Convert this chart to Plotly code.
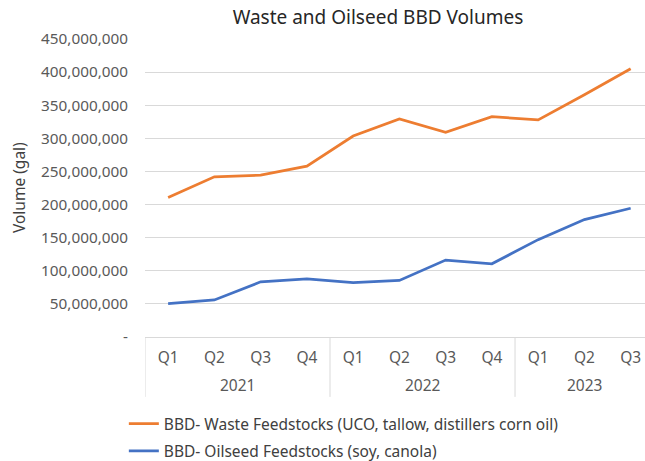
import plotly.graph_objects as go

years = ["2021"] * 4 + ["2022"] * 4 + ["2023"] * 3
quarters = ["Q1", "Q2", "Q3", "Q4", "Q1", "Q2", "Q3", "Q4", "Q1", "Q2", "Q3"]

waste = [210.5e6, 241.9e6, 244.4e6, 258.1e6, 303.5e6, 329.3e6, 309.1e6, 332.8e6, 327.8e6, 365.7e6, 405.0e6]
oilseed = [50.5e6, 56.0e6, 83.3e6, 87.9e6, 82.3e6, 85.4e6, 116.2e6, 110.6e6, 147.0e6, 177.3e6, 194.4e6]

y_tickvals = [0, 50e6, 100e6, 150e6, 200e6, 250e6, 300e6, 350e6, 400e6, 450e6]
y_ticktext = ["-", "50,000,000", "100,000,000", "150,000,000", "200,000,000",
              "250,000,000", "300,000,000", "350,000,000", "400,000,000", "450,000,000"]

FONT = "Noto Sans"
cats = [f"{y} {q}" for y, q in zip(years, quarters)]

fig = go.Figure()
fig.add_trace(go.Scatter(
    x=cats, y=waste, mode="lines",
    name="BBD- Waste Feedstocks (UCO, tallow, distillers corn oil)",
    legendgroup="a",
    line=dict(color="#ED7D31", width=2.75),
))
fig.add_trace(go.Scatter(
    x=cats, y=oilseed, mode="lines",
    name="BBD- Oilseed Feedstocks (soy, canola)",
    legendgroup="b",
    line=dict(color="#4472C4", width=2.75),
))

# year group labels and dividers, derived from the category lists
unique_years = list(dict.fromkeys(years))
annotations = [dict(text="Volume (gal)", xref="paper", yref="paper",
                    x=-0.252, y=0.5, xanchor="center", yanchor="middle",
                    textangle=-90, showarrow=False,
                    font=dict(family=FONT, size=15.5, color="#404040"))]
shapes = []
for yr in unique_years:
    idx = [i for i, v in enumerate(years) if v == yr]
    annotations.append(dict(text=yr, xref="x", yref="paper",
                            x=sum(idx) / len(idx), y=-0.161,
                            xanchor="center", yanchor="middle", showarrow=False,
                            font=dict(family=FONT, size=15.5, color="#595959")))
    shapes.append(dict(type="line", xref="x", yref="paper",
                       x0=idx[0] - 0.5, x1=idx[0] - 0.5, y0=0, y1=-0.201,
                       line=dict(color="#d9d9d9", width=1)))

fig.update_layout(
    width=645, height=461,
    margin=dict(l=145, r=0, t=39, b=124, autoexpand=False),
    paper_bgcolor="white", plot_bgcolor="white",
    font=dict(family=FONT, color="#595959", size=15),
    title=dict(text="Waste and Oilseed BBD Volumes", x=0.586, xanchor="center",
               y=0.963, yanchor="middle",
               font=dict(family=FONT, size=19, color="#262626")),
    showlegend=True,
    legend=dict(orientation="v", xref="container", yref="container",
                x=0.192, xanchor="left", y=0.117, yanchor="top",
                font=dict(family=FONT, size=15.5, color="#404040"),
                itemwidth=30, tracegroupgap=4),
    annotations=annotations,
    shapes=shapes,
)
fig.update_xaxes(
    type="category", automargin=False,
    range=[-0.5, 10.31],
    tickvals=cats, ticktext=quarters,
    showline=True, linecolor="#d9d9d9", linewidth=1,
    showgrid=False, ticks="", tickangle=0, ticklabelstandoff=6,
    tickfont=dict(family=FONT, size=15.5, color="#595959"),
)
fig.update_yaxes(
    range=[0, 450e6], tickvals=y_tickvals, ticktext=y_ticktext, automargin=False,
    showgrid=True, gridcolor="#d9d9d9", gridwidth=1,
    zeroline=False, showline=False, ticklabelstandoff=16,
    tickfont=dict(family=FONT, size=15.3, color="#595959"),
)

# remove the browser's default 8px page margin so the figure fills the window
fig.write_html("out.html",
               config={"displayModeBar": False},
               post_script="document.body.style.margin='0';"
                           "document.documentElement.style.overflow='hidden';")
